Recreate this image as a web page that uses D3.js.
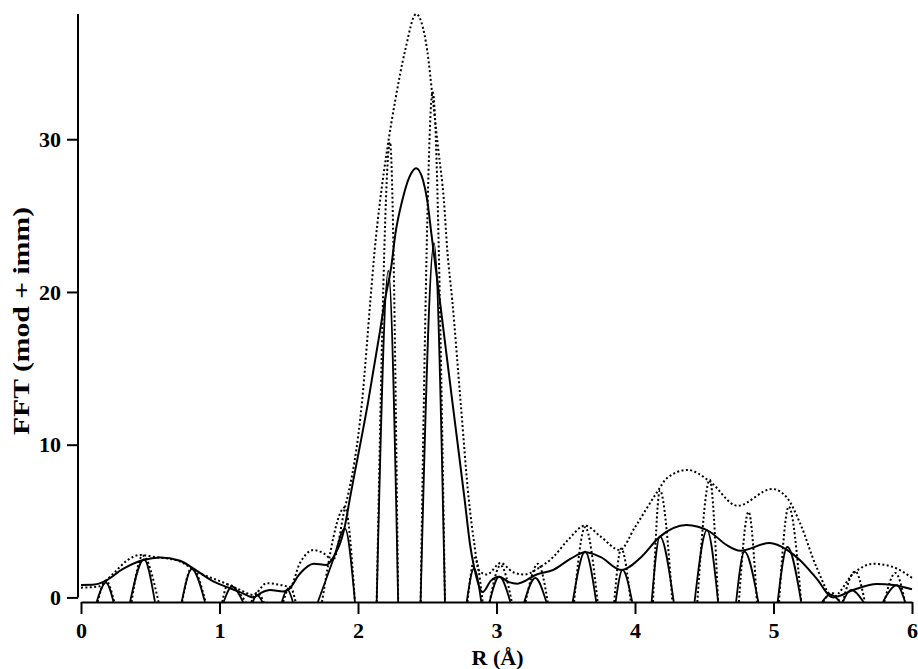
<!DOCTYPE html>
<html>
<head>
<meta charset="utf-8">
<script src="https://cdn.jsdelivr.net/npm/d3@7"></script>
<style>
  body { margin: 0; background: #fff; }
  svg text { font-family: "Liberation Serif", "Times New Roman", serif; font-weight: bold; fill: #000; }
</style>
</head>
<body>
<svg id="chart" width="918" height="669"></svg>
<script>
// x ticks / y ticks
const xTicks = [0, 1, 2, 3, 4, 5, 6];
const yTicks = [0, 10, 20, 30];

// modulus, solid curve  [R, value]
const solidMod = [
  [0, 0.82], [0.1, 0.85], [0.17, 1.05], [0.3, 1.85], [0.45, 2.45], [0.57, 2.62],
  [0.715, 2.4], [0.81, 1.9], [0.955, 1.05], [1.076, 0.6], [1.16, 0.3], [1.245, 0.0],
  [1.3, 0.3], [1.365, 0.48], [1.46, 0.38], [1.5, 0.53], [1.58, 1.55], [1.68, 2.2],
  [1.77, 2.13], [1.82, 2.6], [1.906, 4.7], [1.94, 6.4], [2.075, 12.9], [2.16, 17.5],
  [2.195, 19.5], [2.24, 21.65], [2.27, 23.8], [2.32, 26.0], [2.37, 27.5], [2.42, 28.1],
  [2.47, 27.3], [2.5, 26.0], [2.53, 23.8], [2.56, 21.65], [2.59, 19.5], [2.68, 12.9],
  [2.77, 6.4], [2.81, 3.4], [2.84, 1.9], [2.9, 0.35], [2.96, 1.1], [3.02, 1.35],
  [3.09, 1.0], [3.15, 0.9], [3.29, 1.5], [3.41, 1.8], [3.53, 2.5], [3.64, 2.95],
  [3.75, 2.65], [3.9, 1.8], [4.04, 2.6], [4.18, 3.98], [4.37, 4.74], [4.54, 4.3],
  [4.66, 3.44], [4.76, 3.06], [4.97, 3.56], [5.1, 3.1], [5.19, 2.45], [5.31, 1.25],
  [5.43, 0.0], [5.58, 0.5], [5.745, 0.88], [5.865, 0.82], [6.0, 0.53]
];

// modulus, dotted curve
const dottedMod = [
  [0, 0.64], [0.12, 0.7], [0.235, 1.58], [0.33, 2.4], [0.426, 2.78], [0.52, 2.67],
  [0.715, 2.35], [0.835, 1.69], [1.03, 0.97], [1.15, 0.49], [1.245, 0.16], [1.34, 0.93],
  [1.44, 0.82], [1.51, 0.7], [1.58, 2.24], [1.68, 3.1], [1.75, 2.9], [1.82, 2.45],
  [1.906, 5.9], [1.92, 6.4], [2.03, 12.9], [2.09, 19.5], [2.12, 22.7], [2.16, 26.0],
  [2.21, 29.3], [2.27, 32.6], [2.34, 35.8], [2.42, 38.2], [2.5, 35.8], [2.54, 32.6],
  [2.58, 29.3], [2.62, 26.0], [2.645, 22.7], [2.68, 19.5], [2.74, 12.9], [2.8, 6.4],
  [2.84, 3.5], [2.87, 1.8], [2.93, 1.5], [3.03, 2.25], [3.12, 1.65], [3.2, 1.5],
  [3.3, 1.9], [3.41, 2.65], [3.52, 3.8], [3.64, 4.7], [3.75, 4.0], [3.89, 3.1],
  [4.0, 4.6], [4.16, 6.9], [4.23, 7.8], [4.38, 8.35], [4.54, 7.6], [4.74, 6.0],
  [4.99, 7.1], [5.1, 6.5], [5.19, 4.9], [5.31, 2.0], [5.43, 0.05], [5.58, 1.6],
  [5.72, 2.2], [5.86, 2.0], [6.0, 1.28]
];

// imaginary part, positive lobes only (the rest is below the axis)
// l / r = where the lobe meets the axis line, top = points on the lobe
const solidIm = [
  { l: 0.113, r: 0.235, top: [[0.18, 0.97]] },
  { l: 0.354, r: 0.534, top: [[0.455, 2.5]] },
  { l: 0.727, r: 0.895, top: [[0.80, 1.85]] },
  { l: 1.03, r: 1.17, top: [[1.09, 0.71]] },
  { l: 1.24, r: 1.31, top: [[1.27, 0.15]] },
  { l: 1.45, r: 1.53, top: [[1.49, 0.53]] },
  { l: 1.71, r: 1.978, top: [[1.82, 2.45], [1.906, 4.5]] },
  { l: 2.135, r: 2.29, top: [[2.219, 21.4]] },
  { l: 2.452, r: 2.628, top: [[2.549, 23.2]] },
  { l: 2.785, r: 2.89, top: [[2.838, 1.9]] },
  { l: 2.95, r: 3.1, top: [[3.02, 1.36]] },
  { l: 3.2, r: 3.36, top: [[3.28, 1.27]] },
  { l: 3.55, r: 3.72, top: [[3.64, 3.0]] },
  { l: 3.86, r: 3.98, top: [[3.91, 1.8]] },
  { l: 4.12, r: 4.28, top: [[4.18, 3.98]] },
  { l: 4.43, r: 4.6, top: [[4.52, 4.4]] },
  { l: 4.73, r: 4.89, top: [[4.79, 3.0]] },
  { l: 5.03, r: 5.2, top: [[5.1, 3.3]] },
  { l: 5.35, r: 5.48, top: [[5.41, 0.2]] },
  { l: 5.5, r: 5.65, top: [[5.56, 0.5]] },
  { l: 5.79, r: 5.95, top: [[5.89, 0.8]] }
];

const dottedIm = [
  { l: 0.12, r: 0.24, top: [[0.18, 1.1]] },
  { l: 0.365, r: 0.56, top: [[0.445, 2.75]] },
  { l: 0.73, r: 0.9, top: [[0.80, 1.95]] },
  { l: 1.02, r: 1.19, top: [[1.06, 0.85]] },
  { l: 1.23, r: 1.32, top: [[1.27, 0.3]] },
  { l: 1.46, r: 1.55, top: [[1.51, 0.7]] },
  { l: 1.74, r: 1.978, top: [[1.906, 5.9]] },
  { l: 2.135, r: 2.29, top: [[2.231, 29.8]] },
  { l: 2.452, r: 2.628, top: [[2.539, 33.1]] },
  { l: 2.79, r: 2.9, top: [[2.845, 2.6]] },
  { l: 2.95, r: 3.11, top: [[3.03, 2.1]] },
  { l: 3.21, r: 3.37, top: [[3.3, 2.2]] },
  { l: 3.56, r: 3.73, top: [[3.64, 4.6]] },
  { l: 3.85, r: 3.97, top: [[3.9, 3.2]] },
  { l: 4.13, r: 4.27, top: [[4.18, 7.0]] },
  { l: 4.45, r: 4.6, top: [[4.54, 7.7]] },
  { l: 4.75, r: 4.88, top: [[4.82, 5.6]] },
  { l: 5.04, r: 5.2, top: [[5.11, 5.95]] },
  { l: 5.36, r: 5.48, top: [[5.42, 0.3]] },
  { l: 5.5, r: 5.66, top: [[5.59, 1.7]] },
  { l: 5.8, r: 5.95, top: [[5.88, 1.6]] }
];

const yBottom = -0.3;   // the x axis line sits a bit below zero
const yTop = 38.2;

const svg = d3.select("#chart");

const x = d3.scaleLinear().domain([0, 6]).range([81, 912]);
const y = d3.scaleLinear().domain([yBottom, yTop]).range([602, 14]);

svg.append("defs").append("clipPath")
  .attr("id", "plotClip")
  .append("rect")
  .attr("x", 0).attr("y", 0)
  .attr("width", 918).attr("height", y(yBottom));

const plot = svg.append("g").attr("clip-path", "url(#plotClip)");

const line = d3.line()
  .x(d => x(d[0]))
  .y(d => y(d[1]))
  .curve(d3.curveMonotoneX);

function lobePoints(d) {
  return [[d.l, yBottom]].concat(d.top, [[d.r, yBottom]]);
}

// dotted curves first, solid on top
plot.selectAll(".dotIm")
  .data(dottedIm)
  .enter().append("path")
  .attr("class", "dotIm")
  .attr("d", d => line(lobePoints(d)))
  .attr("fill", "none")
  .attr("stroke", "#000")
  .attr("stroke-width", 2)
  .attr("stroke-dasharray", "2,2.4");

plot.append("path")
  .datum(dottedMod)
  .attr("d", line)
  .attr("fill", "none")
  .attr("stroke", "#000")
  .attr("stroke-width", 2)
  .attr("stroke-dasharray", "2,2.4");

plot.selectAll(".solidIm")
  .data(solidIm)
  .enter().append("path")
  .attr("class", "solidIm")
  .attr("d", d => line(lobePoints(d)))
  .attr("fill", "none")
  .attr("stroke", "#000")
  .attr("stroke-width", 1.8);

plot.append("path")
  .datum(solidMod)
  .attr("d", line)
  .attr("fill", "none")
  .attr("stroke", "#000")
  .attr("stroke-width", 2);

// axes
const xAxis = svg.append("g")
  .attr("transform", "translate(0," + y(yBottom) + ")")
  .call(d3.axisBottom(x).tickValues(xTicks).tickFormat(d3.format("d"))
    .tickSize(12).tickSizeOuter(0).tickPadding(8));

const yAxis = svg.append("g")
  .attr("transform", "translate(78,0)")
  .call(d3.axisLeft(y).tickValues(yTicks).tickFormat(d3.format("d"))
    .tickSize(11).tickSizeOuter(0).tickPadding(6));

yAxis.select(".domain").attr("d", "M0," + y(0) + "V" + y(yTop));

svg.selectAll(".domain, .tick line")
  .attr("stroke", "#000")
  .attr("stroke-width", 2);

svg.selectAll(".tick text")
  .style("font-size", "22px");

svg.append("text")
  .attr("x", x(3) + 1)
  .attr("y", 665)
  .attr("text-anchor", "middle")
  .style("font-size", "22px")
  .text("R (Å)");

svg.append("text")
  .attr("transform", "translate(29,321) rotate(-90)")
  .attr("text-anchor", "middle")
  .attr("textLength", 228)
  .attr("lengthAdjust", "spacingAndGlyphs")
  .style("font-size", "24px")
  .text("FFT (mod + imm)");
</script>
</body>
</html>
